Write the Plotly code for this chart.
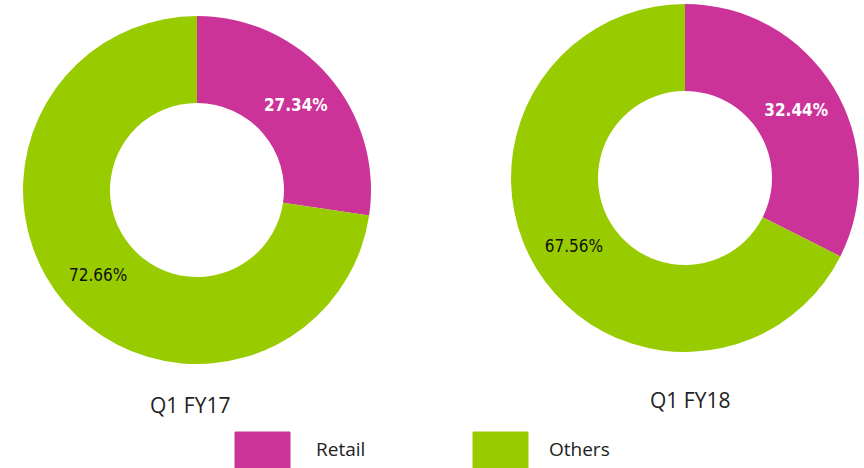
import plotly.graph_objects as go

categories = ["Retail", "Others"]
fy17_values = [27.34, 72.66]
fy18_values = [32.44, 67.56]
period_labels = ["Q1 FY17", "Q1 FY18"]
colors = ["#CC3399", "#99CC00"]

W, H = 864, 468

def px_x(x):
    return x / W

def px_y(y):
    return 1 - y / H

fig = go.Figure()

domains = [
    dict(x=[px_x(23), px_x(371)], y=[px_y(365), px_y(15)]),
    dict(x=[px_x(511), px_x(859)], y=[px_y(352), px_y(4)]),
]

for vals, dom in zip([fy17_values, fy18_values], domains):
    fig.add_trace(go.Pie(
        labels=categories,
        values=vals,
        text=[f"{v:.2f}%" for v in vals],
        textinfo="text",
        hole=0.5,
        sort=False,
        direction="clockwise",
        rotation=0,
        domain=dom,
        marker=dict(colors=colors, line=dict(width=0)),
        textposition="inside",
        insidetextorientation="horizontal",
        textfont=dict(color=["white", "#111111"], size=17,
                      family="DejaVu Sans Condensed", weight=["bold", "normal"]),
        showlegend=False,
        hoverinfo="label+value",
    ))

# titles below donuts
fig.add_annotation(x=px_x(190), y=px_y(405), xref="paper", yref="paper",
                   xanchor="center", yanchor="middle",
                   text=period_labels[0], showarrow=False,
                   font=dict(size=21, color="#222222", family="Open Sans"))
fig.add_annotation(x=px_x(690), y=px_y(400), xref="paper", yref="paper",
                   xanchor="center", yanchor="middle",
                   text=period_labels[1], showarrow=False,
                   font=dict(size=21, color="#222222", family="Open Sans"))

# custom legend
legend_items = [(235, 290, 340), (473, 528, 579)]
for (x0, x1, tx), name, col in zip(legend_items, categories, colors):
    fig.add_shape(type="rect", xref="paper", yref="paper",
                  x0=px_x(x0), x1=px_x(x1), y0=px_y(475), y1=px_y(432),
                  fillcolor=col, line=dict(width=1, color=col), layer="above")
    fig.add_annotation(x=px_x(tx), y=px_y(449), xref="paper", yref="paper",
                       xanchor="center", yanchor="middle",
                       text=name, showarrow=False,
                       font=dict(size=19, color="#222222", family="Open Sans"))

fig.update_layout(
    width=W, height=H,
    margin=dict(l=0, r=0, t=0, b=0),
    paper_bgcolor="white",
    plot_bgcolor="white",
)

fig.write_html("out.html", config={"displayModeBar": False},
               post_script="document.body.style.margin='0px';document.body.style.overflow='hidden';")
